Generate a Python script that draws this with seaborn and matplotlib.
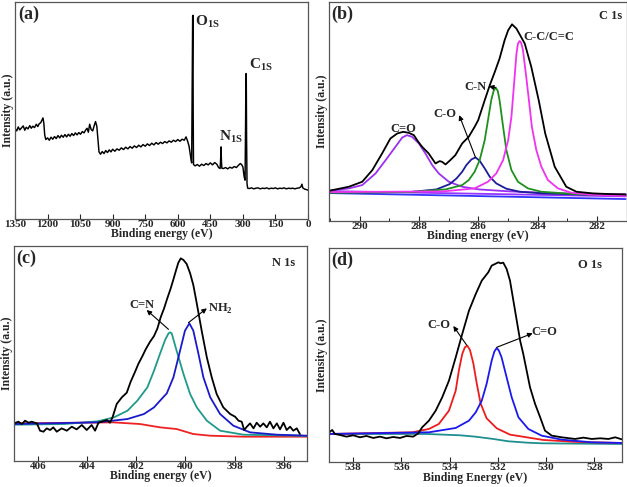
import seaborn as sns
import matplotlib
matplotlib.use("Agg")
import matplotlib.pyplot as plt

# ---- (a) survey spectrum ----
a_ev = [1350,1342,1335,1328,1320,1312,1305,1298,1290,1282,1275,1268,1260,1252,1245,1238,1232,1226,1221,1217,1213,1208,
        1200,1192,1184,1176,1168,1160,1152,1144,1136,1128,1120,1112,1104,1096,1088,1080,1072,1064,1056,1048,1040,1032,
        1025,1018,1012,1006,999,992,985,979,973,968,963,956,948,940,932,924,916,908,900,890,880,870,860,850,840,830,820,
        810,800,790,780,770,760,750,740,730,720,710,700,690,680,670,660,650,640,630,620,610,600,590,580,570,562,555,548,
        542,538,536,533,531.5,530,529,527.5,520,510,500,490,480,470,460,450,440,430,420,412,405,402,400.5,399,397,390,380,
        370,360,350,340,330,320,312,306,300,294,290,287.5,286,284.5,283,281,278,270,260,250,240,230,220,210,200,190,180,
        170,160,150,140,130,120,110,100,90,80,70,60,50,40,33,28,24,15,8,0]
a_int = [275,268,280,271,277,283,270,279,274,284,276,282,278,288,281,290,292,300,307,290,255,242,
         247,240,249,243,251,245,254,247,255,249,257,250,258,252,260,254,262,256,263,258,266,262,
         270,276,264,288,272,268,284,296,282,245,205,198,206,200,209,203,211,205,213,207,214,210,217,212,219,214,221,
         216,223,218,225,220,227,222,229,224,231,226,233,228,234,230,236,232,238,234,240,236,242,237,243,240,250,238,222,
         195,178,172,450,612,615,320,167,163,167,162,168,164,170,166,172,166,173,168,158,155,190,220,180,156,155,158,
         154,159,156,161,158,165,170,167,160,130,120,300,440,440,250,110,96,95,97,94,96,97,94,96,95,97,94,
         96,95,97,94,96,95,97,94,96,95,96,94,96,97,100,108,97,93,92,90]

# ---- (b) C 1s ----
b_ev = [291.02,290.36,289.91,289.57,289.24,288.96,288.73,288.53,288.34,288.17,288.02,287.89,287.67,287.44,287.30,
        287.22,287.10,286.94,286.77,286.54,286.32,286.12,286.00,285.78,285.61,285.44,285.28,285.11,284.99,284.86,
        284.71,284.43,284.21,283.96,283.74,283.42,283.03,282.69,282.13,281.57,281.03]
b_raw = [91,103,118,153,203,248,263,268,265,258,238,223,203,173,180,178,170,183,198,233,253,283,303,363,408,448,
         488,543,573,591,578,533,463,363,263,163,103,88,83,81,80]
b_cdo_ev = [291.03,290.36,289.91,289.46,289.12,288.79,288.56,288.40,288.23,288.00,287.78,287.55,287.33,286.99,
            286.54,285.98,284.94,283.82,282.69,281.03]
b_cdo = [91,98,108,143,183,223,251,258,253,233,203,168,143,118,103,95,89,85,82,80]
b_co_ev = [291.02,288.31,287.41,286.96,286.73,286.54,286.40,286.23,286.09,285.95,285.78,285.61,285.39,285.05,
           284.60,283.82,282.69,281.03]
b_co = [85,87,95,111,128,148,168,185,191,181,158,133,113,97,88,83,80,77]
b_cn_ev = [291.02,288.31,287.10,286.54,286.32,286.12,285.95,285.78,285.67,285.56,285.48,285.41,285.34,285.28,
           285.16,285.05,284.88,284.66,284.32,283.87,282.75,281.03]
b_cn = [85,87,95,108,123,148,183,243,303,363,391,401,391,363,283,213,153,118,98,88,81,77]
b_cc_ev = [291.02,287.18,286.12,285.67,285.39,285.16,284.99,284.88,284.79,284.71,284.66,284.60,284.55,284.49,
           284.38,284.29,284.19,284.04,283.87,283.65,283.31,282.86,282.19,281.03]
b_cc = [87,89,98,118,143,183,243,313,413,503,533,541,535,513,433,363,283,213,163,123,98,85,79,75]
b_bg_ev = [291.02, 281.03]
b_bg_blue = [84, 66]
b_bg_violet = [90, 74]

# ---- (c) N 1s ----
c_ev = [406.98,406.80,406.66,406.53,406.39,406.26,406.05,405.92,405.78,405.65,405.51,405.38,405.24,405.04,404.83,
        404.63,404.43,404.22,404.02,403.82,403.68,403.54,403.41,403.20,403.07,402.96,402.80,402.59,402.39,402.23,
        402.05,401.92,401.75,401.62,401.44,401.28,401.14,401.01,400.87,400.74,400.60,400.49,400.38,400.29,400.19,
        400.08,399.95,399.81,399.68,399.54,399.34,399.13,398.93,398.73,398.46,398.18,397.98,397.84,397.71,397.61,
        397.50,397.37,397.23,397.10,396.96,396.83,396.69,396.56,396.42,396.28,396.15,396.01,395.88,395.74,395.61,
        395.47,395.34]
c_raw = [112,117,110,120,114,117,112,90,87,97,92,100,87,97,90,102,94,107,92,107,90,114,117,122,114,132,170,190,
         204,237,267,290,314,334,357,374,397,430,457,487,517,544,572,594,607,602,590,562,527,472,390,310,250,200,
         160,140,132,120,117,92,102,112,97,114,102,112,100,117,97,112,94,114,92,102,90,97,80]
c_cn_ev = [406.98,404.94,403.58,402.91,402.36,401.96,401.55,401.28,401.03,400.83,400.69,400.63,400.56,400.36,
           400.08,399.81,399.54,399.13,398.59,397.64,395.34,395.04]
c_cn = [108,110,118,130,150,180,220,270,322,362,382,385,382,330,260,200,160,120,90,78,75,74]
c_nh2_ev = [406.98,403.58,402.36,401.69,401.28,401.01,400.76,400.49,400.22,400.02,399.84,399.68,399.47,399.27,
            398.99,398.59,398.05,397.37,396.28,395.04]
c_nh2 = [110,115,125,140,160,182,202,250,330,390,412,390,320,250,190,140,105,85,78,75]
c_bg_ev = [406.98,402.93,401.85,401.03,400.36,399.68,399.00,397.64,395.04]
c_bg = [112,115,110,100,95,80,75,72,72]

# ---- (d) O 1s ----
d_ev = [538.99,538.87,538.76,538.55,538.28,538.00,537.72,537.45,537.17,536.89,536.62,536.34,536.06,535.79,535.51,
        535.30,535.14,534.86,534.58,534.31,534.03,533.75,533.48,533.20,532.92,532.67,532.40,532.26,532.12,531.98,
        531.89,531.78,531.64,531.50,531.36,531.22,531.08,530.95,530.81,530.67,530.46,530.25,530.05,529.77,529.36,
        528.80,528.46,528.11,527.76,527.42,527.14,526.87]
d_raw = [90,97,85,82,77,81,75,79,73,77,72,76,73,79,77,87,105,125,155,195,245,315,385,455,505,545,570,590,595,600,
         597,599,580,545,485,425,365,325,275,225,175,135,95,80,75,70,74,70,72,70,75,69]
d_co_ev = [538.99,535.55,534.86,534.45,534.03,533.75,533.62,533.48,533.37,533.27,533.16,533.02,532.88,532.72,
           532.47,532.05,531.50,530.12,528.73,526.87]
d_co = [85,90,100,115,155,215,275,325,345,350,337,297,237,177,132,102,83,67,61,58]
d_cdo_ev = [538.99,534.86,533.75,533.20,532.92,532.67,532.47,532.26,532.15,532.05,531.96,531.85,531.64,531.43,
            531.15,530.74,530.19,529.36,528.11,526.87]
d_cdo = [85,90,103,125,150,185,235,305,332,343,335,315,255,195,135,100,80,68,60,58]
d_bg_ev = [538.99,534.96,533.57,532.95,532.19,531.57,530.81,530.19,528.73,526.87]
d_bg = [85,85,81,77,70,63,59,57,56,55]

sns.set_style("ticks")
plt.rcParams['font.family'] = ['Liberation Serif', 'DejaVu Serif']
plt.rcParams['font.weight'] = 'bold'
plt.rcParams['axes.labelweight'] = 'bold'
plt.rcParams['mathtext.fontset'] = 'custom'
plt.rcParams['mathtext.rm'] = 'Liberation Serif:bold'
plt.rcParams['mathtext.bf'] = 'Liberation Serif:bold'

fig = plt.figure(figsize=(6.27, 4.87), dpi=100)


def box(l, r, t, b):
    return [l / 627, 1 - b / 487, (r - l) / 627, (b - t) / 487]


def setup(ax, lim, ticks, ylim, xlabel="Binding energy (eV)"):
    ax.set_xlim(*lim)
    ax.set_ylim(*ylim)
    ax.set_xticks(ticks)
    ax.set_yticks([])
    ax.set_xlabel(xlabel, fontsize=8.5, labelpad=-0.5)
    ax.set_ylabel("Intensity (a.u.)", fontsize=8.5, labelpad=1)
    ax.tick_params(axis='x', direction='in', length=3.5, width=0.8, pad=0.8, labelsize=8)
    for s in ax.spines.values():
        s.set_color('#555555')
        s.set_linewidth(0.9)
        s.set_visible(True)
    for t in ax.get_xticklabels():
        t.set_fontweight('bold')


def line(ax, x, y, c, lw=1.3):
    sns.lineplot(x=x, y=y, ax=ax, color=c, lw=lw, sort=True, estimator=None)


arw = dict(arrowstyle='-|>', color='k', lw=0.8, mutation_scale=7, shrinkA=0, shrinkB=0)

# (a)
axA = fig.add_axes(box(15, 308, 2, 218.5))
line(axA, a_ev, a_int, 'black', 1.05)
setup(axA, (1350, 0), range(0, 1351, 150), (5, 655))
axA.text(0.011, 0.985, "(a)", transform=axA.transAxes, ha='left', va='top', fontsize=13)
axA.text(521, 584, r"O$_{\mathrm{1S}}$", fontsize=11, va='baseline')
axA.text(412, 240, r"N$_{\mathrm{1S}}$", fontsize=11, va='baseline')
axA.text(274, 455, r"C$_{\mathrm{1S}}$", fontsize=11, va='baseline')

# (b)
axB = fig.add_axes(box(329, 626.5, 2, 220.7))
line(axB, b_bg_ev, b_bg_blue, '#3333ff')
line(axB, b_bg_ev, b_bg_violet, '#9933ff')
line(axB, b_cdo_ev, b_cdo, '#9b30f0')
line(axB, b_co_ev, b_co, '#1c1c99')
line(axB, b_cn_ev, b_cn, '#1e901e')
line(axB, b_cc_ev, b_cc, '#f032f0')
line(axB, b_ev, b_raw, 'black')
setup(axB, (291.03, 281.0), range(290, 281, -2), (1, 658))
axB.set_xticks(range(291, 281, -1), minor=True)
axB.tick_params(axis='x', which='minor', direction='in', length=2, width=0.7)
axB.text(0.009, 0.985, "(b)", transform=axB.transAxes, ha='left', va='top', fontsize=13)
axB.text(0.985, 0.965, "C 1s", transform=axB.transAxes, ha='right', va='top', fontsize=9)
axB.text(288.53, 268, "C=O", ha='center', va='baseline', fontsize=9)
axB.text(287.12, 313, "C-O", ha='center', va='baseline', fontsize=9)
axB.text(286.09, 395, "C-N", ha='center', va='baseline', fontsize=9)
axB.text(284.49, 543, "C-C/C=C", ha='left', va='baseline', fontsize=9)
axB.annotate("", xy=(286.64, 318), xytext=(286.09, 191), arrowprops=arw)
axB.annotate("", xy=(285.64, 405), xytext=(285.41, 400), arrowprops=arw)

# (c)
axC = fig.add_axes(box(14, 307.3, 246, 460.7))
line(axC, c_bg_ev, c_bg, '#ee2222')
line(axC, c_cn_ev, c_cn, '#1f9a8a')
line(axC, c_nh2_ev, c_nh2, '#1a1acc')
line(axC, c_ev, c_raw, 'black')
setup(axC, (406.98, 395.04), range(406, 395, -2), (0, 644))
axC.text(0.007, 0.985, "(c)", transform=axC.transAxes, ha='left', va='top', fontsize=13)
axC.text(0.958, 0.95, "N 1s", transform=axC.transAxes, ha='right', va='top', fontsize=9)
axC.text(401.78, 457, "C=N", ha='center', va='baseline', fontsize=9)
axC.text(399.07, 447, r"NH$_{\mathrm{2}}$", ha='left', va='baseline', fontsize=9)
axC.annotate("", xy=(401.58, 452), xytext=(400.69, 394), arrowprops=arw)
axC.annotate("", xy=(399.13, 457), xytext=(399.88, 414), arrowprops=arw)

# (d)
axD = fig.add_axes(box(329.3, 621.7, 248.3, 462.3))
line(axD, d_bg_ev, d_bg, '#1f8f8f')
line(axD, d_co_ev, d_co, '#ee1c1c')
line(axD, d_cdo_ev, d_cdo, '#1a1aee')
line(axD, d_ev, d_raw, 'black')
setup(axD, (538.99, 526.87), range(538, 527, -2), (0, 642), "Binding Energy (eV)")
axD.text(0.008, 0.984, "(d)", transform=axD.transAxes, ha='left', va='top', fontsize=13)
axD.text(0.932, 0.95, "O 1s", transform=axD.transAxes, ha='right', va='top', fontsize=9)
axD.text(534.45, 402, "C-O", ha='center', va='baseline', fontsize=9)
axD.text(530.60, 382, "C=O", ha='left', va='baseline', fontsize=9)
axD.annotate("", xy=(533.85, 409), xytext=(533.30, 352), arrowprops=arw)
axD.annotate("", xy=(530.56, 387), xytext=(532.05, 345), arrowprops=arw)

fig.savefig("out.png", dpi=100)
